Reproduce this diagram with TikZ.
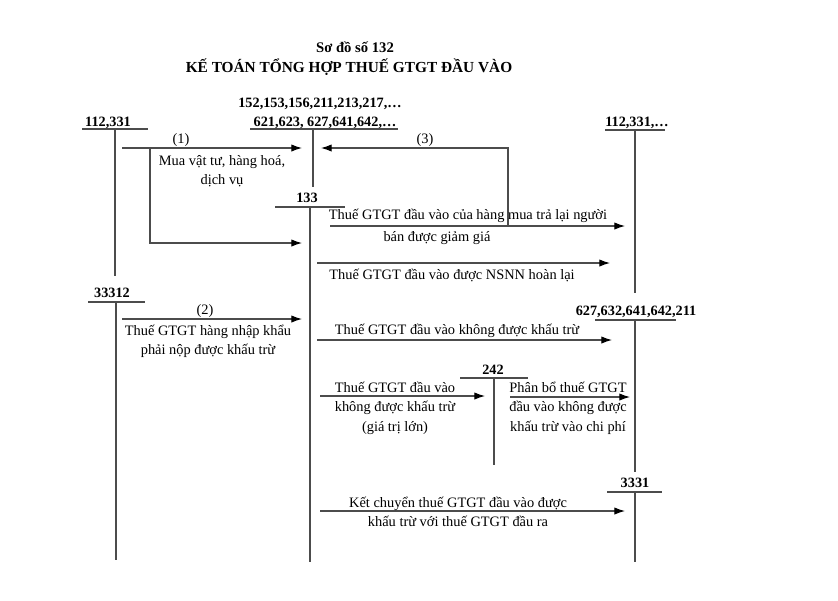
\documentclass[tikz,border=0pt]{standalone}
\usepackage{fontspec}
\setmainfont{Liberation Serif}
\usetikzlibrary{arrows.meta}
\begin{document}
\begin{tikzpicture}[
    x=0.75pt,y=-0.75pt,
    acc/.style={font=\fontsize{10.7}{12}\selectfont\bfseries,inner sep=0pt},
    txt/.style={font=\fontsize{10.8}{14}\selectfont,align=center,inner sep=0pt},
    tline/.style={line width=0.8pt,black!70},
    arr/.style={line width=0.8pt,black!70,-{Latex[length=8pt,width=5.5pt,black]}}
  ]
  \useasboundingbox (0,0) rectangle (838,600);

  % title
  \node[font=\fontsize{11}{13}\selectfont\bfseries] (title1) at (355,47) {Sơ đồ số 132};
  \node[font=\fontsize{11.5}{13}\selectfont\bfseries] (title2) at (349,67) {KẾ TOÁN TỔNG HỢP THUẾ GTGT ĐẦU VÀO};

  % account names
  \node[acc] (acc152) at (320,104) {152,153,156,211,213,217,\dots};
  \node[acc] (acc621) at (325,123) {621,623, 627,641,642,\dots};
  \node[acc] (acc112l) at (108,123) {112,331};
  \node[acc] (acc133) at (307,198) {133};
  \node[acc] (acc112r) at (637,123) {112,331,\dots};
  \node[acc] (acc33312) at (112,293) {33312};
  \node[acc] (acc627) at (636,312) {627,632,641,642,211};
  \node[acc] (acc242) at (493,370) {242};
  \node[acc] (acc3331) at (635,483) {3331};

  % T accounts: left, right, y, stem x, stem end
  \foreach \xa/\xb/\y/\xs/\ye in {250/398/129/313/187, 82/148/129/115/276,
      275/345/207/310/562, 605/665/130/635/293, 88/145/302/116/560,
      595/676/320/635/472, 460/528/378/494/465, 607/662/492/635/562} {
    \draw[tline] (\xa,\y) -- (\xb,\y);
    \draw[tline] (\xs,\y) -- (\xs,\ye);
  }

  % arrow ends
  \foreach \n/\x/\y in {s1/122/148, e1/302/148, b1/150/148, b2/150/243, e1b/302/243,
      s3/508/226, k3/508/148, e3/321/148, s4/330/226, e4/625/226,
      s5/317/263, e5/610/263, s2/122/319, e2/302/319, s6/317/340, e6/612/340,
      s7/320/396, e7/485/396, s8/510/397, e8/630/397, s9/320/511, e9/625/511} {
    \coordinate (\n) at (\x,\y);
  }

  \draw[arr] (s1) -- (e1);
  \draw[arr] (b1) -- (b2) -- (e1b);
  \draw[arr] (s3) -- (k3) -- (e3);
  \draw[arr] (s4) -- (e4);
  \draw[arr] (s5) -- (e5);
  \draw[arr] (s2) -- (e2);
  \draw[arr] (s6) -- (e6);
  \draw[arr] (s7) -- (e7);
  \draw[arr] (s8) -- (e8);
  \draw[arr] (s9) -- (e9);

  % texts
  \node[txt] (n1) at (181,140) {(1)};
  \node[txt] (t1) at (222,171) {Mua vật tư, hàng hoá,\\dịch vụ};
  \node[txt] (n3) at (425,140) {(3)};
  \node[txt] (t4a) at (468,216) {Thuế GTGT đầu vào của hàng mua trả lại người};
  \node[txt] (t4b) at (437,238) {bán được giảm giá};
  \node[txt] (t5) at (452,275) {Thuế GTGT đầu vào được NSNN hoàn lại};
  \node[txt] (n2) at (205,311) {(2)};
  \node[txt] (t2) at (208,341) {Thuế GTGT hàng nhập khẩu\\phải nộp được khấu trừ};
  \node[txt] (t6) at (457,331) {Thuế GTGT đầu vào không được khấu trừ};
  \node[txt,font=\fontsize{10.8}{14.6}\selectfont] (t7) at (395,408) {Thuế GTGT đầu vào\\không được khấu trừ\\(giá trị lớn)};
  \node[txt,font=\fontsize{10.8}{14.6}\selectfont] (t8) at (568,408) {Phân bổ thuế GTGT\\đầu vào không được\\khấu trừ vào chi phí};
  \node[txt] (t9) at (458,512) {Kết chuyển thuế GTGT đầu vào được\\khấu trừ với thuế GTGT đầu ra};
\end{tikzpicture}
\end{document}
